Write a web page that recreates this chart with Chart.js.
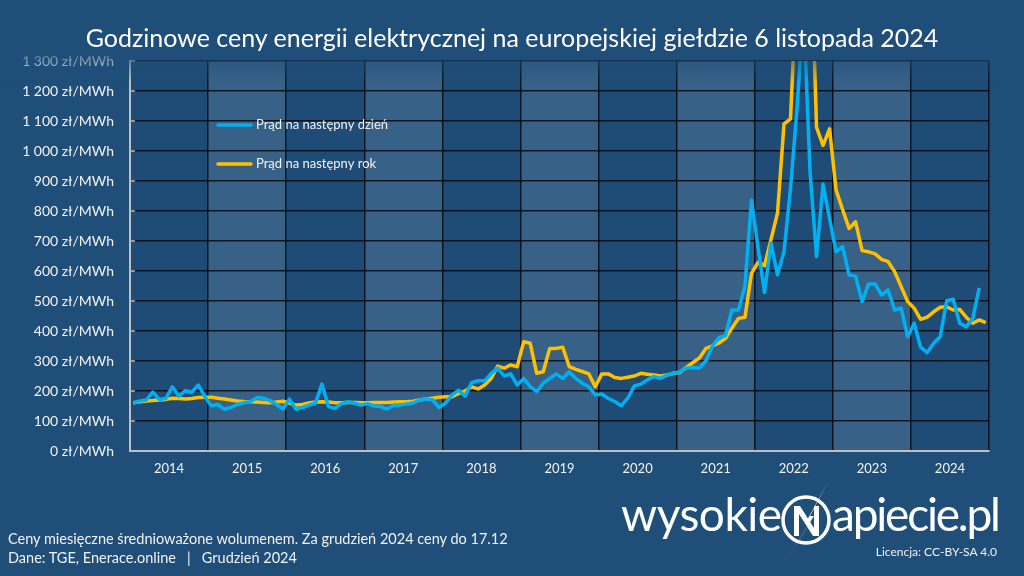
<!DOCTYPE html>
<html lang="pl">
<head>
<meta charset="utf-8">
<title>Godzinowe ceny energii elektrycznej</title>
<script src="https://cdn.jsdelivr.net/npm/chart.js@4.4.1/dist/chart.umd.min.js"></script>
<style>
  html, body { margin:0; padding:0; background:#1F4E79; }
  body { width:1024px; height:576px; position:relative; overflow:hidden; font-family:Lato, 'Open Sans', sans-serif; color:#F2F2F2; }
  #wrap { position:absolute; left:0; top:0; width:1024px; height:576px; }
  .title { position:absolute; left:0; width:1024px; top:22px; text-align:center; font-size:25px; color:#fff; white-space:nowrap; }
  .note { position:absolute; left:8px; font-size:14.5px; white-space:nowrap; }
  .logo { position:absolute; top:491px; font-size:46px; color:#fff; white-space:nowrap; line-height:1; letter-spacing:-0.5px; }
  .lic { position:absolute; right:27px; top:544px; font-size:12px; white-space:nowrap; }
</style>
</head>
<body>
<div id="wrap"><canvas id="chart" width="1024" height="576"></canvas></div>
<div class="title">Godzinowe ceny energii elektrycznej na europejskiej giełdzie 6 listopada 2024</div>
<div class="note" style="top:530px">Ceny miesięczne średnioważone wolumenem. Za grudzień 2024 ceny do 17.12</div>
<div class="note" style="top:549px">Dane: TGE, Enerace.online &nbsp;&nbsp;|&nbsp;&nbsp; Grudzień 2024</div>
<div class="logo" style="left:621px">wysokie</div>
<svg style="position:absolute;left:770px;top:478px" width="70" height="90" viewBox="0 0 70 90">
  <circle cx="36" cy="42" r="23" fill="none" stroke="#fff" stroke-width="3.5"/>
  <path d="M24 58 L24 28 L30 28 L44 50 L44 28 L49 28 L49 58 L43 58 L29 36 L29 58 Z" fill="#fff"/>
  <path d="M58 4 L36 44 L40 44 L14 86 L44 38 L40 38 Z" fill="#fff"/>
</svg>
<div class="logo" style="left:832px;letter-spacing:-2.2px">apiecie.pl</div>
<div class="lic">Licencja: CC-BY-SA 4.0</div>

<script>
// lata na osi X
const years = ['2014','2015','2016','2017','2018','2019','2020','2021','2022','2023','2024'];

// Prąd na następny dzień (zł/MWh), miesięcznie od I 2014
const dayAhead = [
  159,167,170,196,172,175,214,183,201,196,220,181,   // 2014
  151,155,139,145,155,161,164,178,176,168,155,140,   // 2015
  173,139,145,153,160,223,148,142,158,164,159,153,   // 2016
  158,150,148,140,152,153,157,160,170,173,170,145,   // 2017
  160,187,203,183,228,234,234,259,276,250,257,220,   // 2018
  242,214,198,226,242,257,242,264,242,226,214,187,   // 2019
  190,175,165,151,176,217,223,237,248,242,253,259,   // 2020
  264,276,278,277,300,350,378,385,470,470,550,837,   // 2021
  680,528,693,587,664,876,1142,1475,930,648,890,775, // 2022
  664,681,587,583,498,557,557,520,537,470,476,381,   // 2023
  426,346,328,359,381,501,506,426,414,442,544,null   // 2024
];

// Prąd na następny rok (zł/MWh)
const yearAhead = [
  161,164,167,168,170,172,176,175,173,175,178,179,   // 2014
  179,176,173,170,167,165,164,163,162,161,163,166,   // 2015
  160,153,155,160,163,164,163,161,161,162,162,161,   // 2016
  161,162,162,162,163,164,164,166,170,173,176,179,   // 2017
  181,181,192,200,214,207,220,242,283,276,287,281,   // 2018
  364,359,259,264,342,342,346,281,272,265,257,214,   // 2019
  257,257,245,242,246,250,259,256,253,250,253,259,   // 2020
  262,279,295,310,342,350,360,375,410,442,446,592,   // 2021
  629,618,705,793,1090,1107,1590,2000,1780,1079,1019,1074, // 2022
  870,805,742,764,668,664,657,639,631,598,548,498,   // 2023
  476,439,446,464,479,481,470,472,446,426,437,428    // 2024
];

const BG = '#1F4E79';
const BLUE = '#00B0F0';
const GOLD = '#FFC000';

const toPoints = arr => arr.map((v, i) => ({ x: i + 0.5, y: v }));
const fmt = v => (v >= 1000 ? Math.floor(v/1000) + ' ' + String(v%1000).padStart(3,'0') : String(v)) + ' zł/MWh';

// pasy lat (naprzemiennie jaśniejsze)
const bandsPlugin = {
  id: 'bands',
  beforeDraw(chart){
    const { ctx, chartArea:a, scales:{x} } = chart;
    ctx.save();
    years.forEach((y, i) => {
      const x0 = x.getPixelForValue(i*12), x1 = x.getPixelForValue(i*12+12);
      ctx.fillStyle = i % 2 ? 'rgba(255,255,255,0.11)' : 'rgba(0,0,0,0.02)';
      ctx.fillRect(x0, a.top, x1 - x0, a.bottom - a.top);
    });
    ctx.restore();
  }
};

// legenda, ząbki osi Y i zanikanie u góry
const extrasPlugin = {
  id: 'extras',
  afterDraw(chart){
    const { ctx, chartArea:a, scales:{y} } = chart;
    ctx.save();
    // ząbki na osi Y
    ctx.strokeStyle = '#BFBFBF'; ctx.lineWidth = 1.5;
    for(let v = 0; v <= 1300; v += 100){
      const py = y.getPixelForValue(v);
      ctx.beginPath(); ctx.moveTo(a.left, py); ctx.lineTo(a.left + 5, py); ctx.stroke();
    }
    // legenda
    const items = [[BLUE, 'Prąd na następny dzień', 125], [GOLD, 'Prąd na następny rok', 164]];
    ctx.font = '13px Lato';
    ctx.textBaseline = 'middle';
    items.forEach(([c, t, py]) => {
      ctx.strokeStyle = c; ctx.lineWidth = 3.5; ctx.lineCap = 'round';
      ctx.beginPath(); ctx.moveTo(218, py); ctx.lineTo(251, py); ctx.stroke();
      ctx.fillStyle = '#F2F2F2';
      ctx.fillText(t, 256, py);
    });
    // zanikanie
    const g = ctx.createLinearGradient(0, 50, 0, 82);
    g.addColorStop(0, 'rgba(31,78,121,1)');
    g.addColorStop(0.25, 'rgba(31,78,121,0.6)');
    g.addColorStop(1, 'rgba(31,78,121,0)');
    ctx.fillStyle = g;
    ctx.fillRect(0, 50, 1000, 32);
    ctx.restore();
  }
};

Chart.defaults.font.family = 'Lato, "Open Sans", sans-serif';
Chart.defaults.color = '#F2F2F2';

const chart = new Chart(document.getElementById('chart'), {
  type: 'line',
  data: {
    datasets: [
      { label: 'Prąd na następny dzień', data: toPoints(dayAhead), borderColor: BLUE, borderWidth: 3.5, pointRadius: 0, tension: 0, borderJoinStyle: 'round', spanGaps: false },
      { label: 'Prąd na następny rok', data: toPoints(yearAhead), borderColor: GOLD, borderWidth: 3.5, pointRadius: 0, tension: 0, borderJoinStyle: 'round' }
    ]
  },
  options: {
    responsive: false,
    animation: false,
    layout: { padding: { top: 61, right: 35, left: 0, bottom: 0 } },
    plugins: { legend: { display: false }, tooltip: { enabled: false } },
    scales: {
      x: {
        type: 'linear', min: 0, max: 132,
        afterBuildTicks(scale){
          const t = [];
          for(let v = 0; v <= 132; v += 6) t.push({ value: v });
          scale.ticks = t;
        },
        afterFit(scale){ scale.height = 125; },
        grid: {
          drawTicks: false, lineWidth: 1.5,
          color: c => (c.tick && c.tick.value % 12 === 0) ? 'rgba(0,0,0,0.75)' : 'rgba(0,0,0,0)'
        },
        border: { color: '#BFBFBF', width: 2 },
        ticks: {
          autoSkip: false, maxRotation: 0, padding: 10, font: { size: 13 }, color: '#F2F2F2',
          callback: v => (v % 12 === 6) ? years[(v - 6) / 12] : ''
        }
      },
      y: {
        min: 0, max: 1300,
        afterFit(scale){ scale.width = 130; },
        grid: { drawTicks: false, color: 'rgba(0,0,0,0.75)', lineWidth: 1.5 },
        border: { color: '#BFBFBF', width: 2 },
        ticks: { stepSize: 100, padding: 16, font: { size: 14 }, color: '#F2F2F2', callback: v => fmt(v) }
      }
    }
  },
  plugins: [bandsPlugin, extrasPlugin]
});
</script>
</body>
</html>
